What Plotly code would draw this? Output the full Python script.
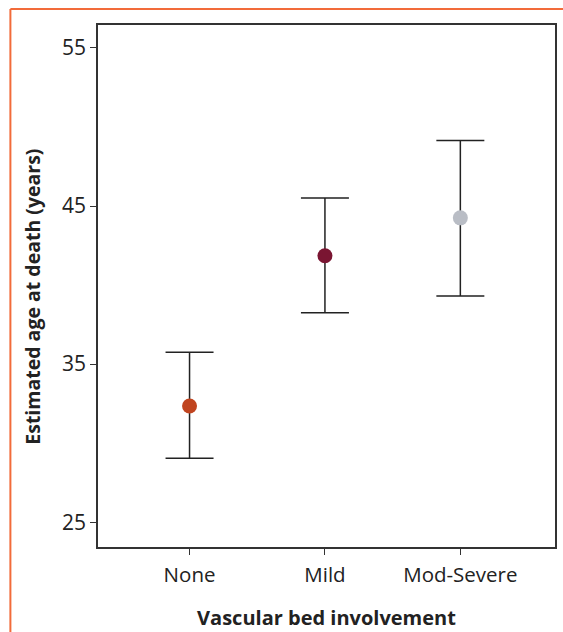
import plotly.graph_objects as go

categories = ["None", "Mild", "Mod-Severe"]
estimates = [32.35, 41.85, 44.25]
upper = [35.75, 45.5, 49.15]
lower = [29.05, 38.25, 39.3]
colors = ["#C0441F", "#7A1532", "#B9BDC5"]
y_ticks = [25, 35, 45, 55]

fig = go.Figure()
for i, c in enumerate(categories):
    fig.add_trace(go.Scatter(
        x=[i], y=[estimates[i]], mode="markers",
        marker=dict(size=15, color=colors[i]),
        error_y=dict(type="data", symmetric=False,
                     array=[upper[i] - estimates[i]],
                     arrayminus=[estimates[i] - lower[i]],
                     color="#222222", thickness=1.5, width=24),
        showlegend=False,
    ))

font_family = "Open Sans, Lato, sans-serif"
fig.update_layout(
    width=563, height=632,
    margin=dict(l=98, r=6, t=25, b=79),
    plot_bgcolor="white", paper_bgcolor="white",
    font=dict(family=font_family, color="#222"),
    xaxis=dict(
        tickmode="array", tickvals=[0, 1, 2], ticktext=categories,
        range=[-0.676, 2.699], showline=True, mirror=True,
        linecolor="#333", linewidth=1.5, ticks="outside", ticklen=6,
        tickcolor="#333", showgrid=False, zeroline=False,
        tickfont=dict(size=20.5), ticklabelstandoff=3,
        title=dict(text="<b>Vascular bed involvement</b>", font=dict(size=20), standoff=24),
    ),
    yaxis=dict(
        tickmode="array", tickvals=y_ticks,
        range=[23.43, 56.45], showline=True, mirror=True,
        linecolor="#333", linewidth=1.5, ticks="outside", ticklen=6,
        tickcolor="#333", showgrid=False, zeroline=False,
        tickfont=dict(size=21),
    ),
    annotations=[
        dict(text="<b>Estimated age at death (years)</b>", xref="paper", yref="paper",
             x=-0.1438, y=0.48, textangle=-90, showarrow=False,
             xanchor="center", yanchor="middle", font=dict(size=19.5)),
    ],
    shapes=[
        dict(type="line", xref="paper", yref="paper",
             x0=-0.1917, x1=-0.1917, y0=-0.2, y1=1.0305,
             line=dict(color="#F26B3A", width=2)),
        dict(type="line", xref="paper", yref="paper",
             x0=-0.1917, x1=1.02, y0=1.0305, y1=1.0305,
             line=dict(color="#F26B3A", width=2)),
    ],
)

fig.write_html("out.html", config={"displayModeBar": False},
               post_script="document.body.style.margin='0';document.body.style.overflow='hidden';")
